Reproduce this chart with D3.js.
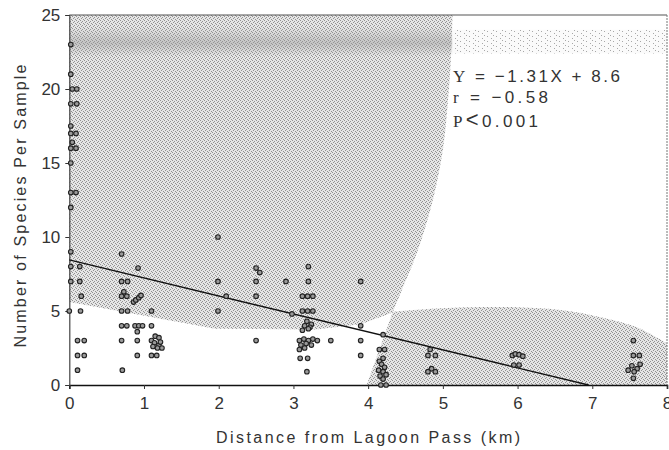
<!DOCTYPE html>
<html>
<head>
<meta charset="utf-8">
<script src="https://cdn.jsdelivr.net/npm/d3@7"></script>
<style>
body { margin: 0; background: #fff; }
text { font-family: "Liberation Sans", Arial, sans-serif; fill: #333; }
</style>
</head>
<body>
<div id="chart-area"></div>
<script>

// Samples: distance from lagoon pass (km) and number of species
var distance = [
	0.02,0.02,0.04,0.1, 0.02,0.1, 0.02,0.02,0.09,0.04,0.02,0.09,0.02,0.02,0.09,0.02,0.02,0.02,0.02,0.0,
	0.14,0.14,0.16,0.15,0.11,0.2, 0.11,0.2, 0.11,
	0.70,0.70,0.78,0.73,0.70,0.77,0.70,0.78,0.70,0.77,0.70,0.71,
	0.92,0.86,0.89,0.93,0.96,0.88,0.93,0.98,0.91,0.91,0.91,
	1.1, 1.1, 1.1, 1.15,1.2, 1.14,1.2, 1.12,1.18,1.24,1.22,1.1, 1.17,
	1.99,1.99,1.99,2.1,
	2.5, 2.55,2.5, 2.5, 2.5,
	2.9, 2.98,
	3.2, 3.2, 3.12,3.19,3.26,3.12,3.19,3.26,
	3.18,3.24,3.15,3.22,3.12,3.2,
	3.08,3.14,3.2, 3.26,3.32,3.1, 3.17,3.24,3.08,3.15,
	3.09,3.19,3.18,
	3.5,
	3.9, 3.9, 3.9, 3.9,
	4.2, 4.15,4.22,4.15,4.2, 4.18,4.22,4.14,4.2, 4.16,4.24,4.2, 4.17,4.24,
	4.83,4.8, 4.9, 4.85,4.8, 4.9,
	5.93,5.97,6.02,6.07,5.95,6.02,
	7.55,7.55,7.63,7.53,7.64,7.6, 7.48,7.56,7.55
];
var species = [
	23,21,20,20, 19,19, 17.5,17,17,16.4,16,16,15,13,13,12,9,8,7,5,
	8,7,6,5,3,3,2,2,1,
	8.85,7,7,6.3,6,6,5,5,4,4,3,1,
	7.9,5.6,5.75,5.9,6.05,4,4,4,3.6,3,2,
	5,4,3.0,3.3,3.2,2.85,2.7,2.6,2.5,2.5,2.9,2,2,
	10,7,5,6,
	7.9,7.6,7,6,3,
	7,4.8,
	8,7,6,6,6,5,5,5,
	4.3,4.1,4.0,3.9,3.7,3.8,
	3.0,3.1,3.0,3.1,3.0,2.7,2.8,2.7,2.4,2.5,
	1.8,1.8,0.9,
	3,
	7,4,3,2,
	3.4,2.4,2.4,1.6,1.8,1.4,1.2,1.0,0.9,0.6,0.7,0.4,0,0,
	2.4,2.0,2.0,1.1,0.9,0.9,
	2.0,2.1,2.05,1.95,1.35,1.35,
	3,2,2,1.3,1.4,1.1,1.0,0.9,0.45
];

// Regression line as drawn (ends on the x axis)
var lineX = [0, 6.95];
var lineY = [8.45, 0];

var xTicks = [0,1,2,3,4,5,6,7,8];
var yTicks = [0,5,10,15,20,25];

// Shaded (stippled) areas of the scanned figure, in data units
// curved edge first, then the straight edges
var upperCurve = [[5.13,25],[5.107,22],[5.07,19.3],[5.0,15.9],[4.866,12.5],[4.665,9.1],[4.45,6.4],[4.33,4.9]];
var upperRest = [[3.9,4.1],[3.3,3.75],[1.95,3.8],[0,5.6],[0,25]];
var lowerCurve = [[4.33,4.95],[4.7,5.1],[5.3,5.25],[6.0,5.25],[6.6,5.05],[7.1,4.6],[7.6,3.9],[8,2.8]];
var lowerRest = [[8,0],[3.98,0]];

var statLines = ["Y = \u22121.31X + 8.6", "r = \u22120.58", "P<0.001"];

var width = 669, height = 450;
var plotLeft = 69.3, plotRight = 667, plotTop = 15, plotBottom = 385;

var svg = d3.select("#chart-area").append("svg")
	.attr("width", width)
	.attr("height", height);

var x = d3.scaleLinear().domain([0,8]).range([plotLeft, plotRight]);
var y = d3.scaleLinear().domain([0,25]).range([plotBottom, plotTop]);

// stipple texture
var defs = svg.append("defs");
var pat = defs.append("pattern").attr("id","stip")
	.attr("width",4).attr("height",4).attr("patternUnits","userSpaceOnUse");
pat.append("rect").attr("width",4).attr("height",4).attr("fill","#e6e6e6");
[[0,0],[2,1],[1,2],[3,3]].forEach(function(p){
	pat.append("rect").attr("x",p[0]).attr("y",p[1]).attr("width",1).attr("height",1).attr("fill","#929292");
});
var pat2 = defs.append("pattern").attr("id","faint")
	.attr("width",9).attr("height",5).attr("patternUnits","userSpaceOnUse");
pat2.append("rect").attr("width",9).attr("height",5).attr("fill","#fafafa");
[[1,1],[5,3],[7,0]].forEach(function(p){
	pat2.append("rect").attr("x",p[0]).attr("y",p[1]).attr("width",1).attr("height",1).attr("fill","#a8a8a8");
});
var grad = defs.append("linearGradient").attr("id","band")
	.attr("x1",0).attr("x2",0).attr("y1",0).attr("y2",1);
grad.append("stop").attr("offset","0%").attr("stop-color","#999").attr("stop-opacity",0);
grad.append("stop").attr("offset","55%").attr("stop-color","#999").attr("stop-opacity",0.45);
grad.append("stop").attr("offset","100%").attr("stop-color","#999").attr("stop-opacity",0);

var curve = d3.line().curve(d3.curveCatmullRom.alpha(0.5))
	.x(function(d){ return x(d[0]); }).y(function(d){ return y(d[1]); });
function rest(pts){
	return pts.map(function(d){ return "L" + x(d[0]) + "," + y(d[1]); }).join("") + "Z";
}

svg.append("path").attr("d", curve(upperCurve) + rest(upperRest)).attr("fill","url(#stip)");
svg.append("path").attr("d", curve(lowerCurve) + rest(lowerRest)).attr("fill","url(#stip)");

// darker scan band near the top
svg.append("rect")
	.attr("x", x(0)).attr("y", y(24.2))
	.attr("width", x(5.13) - x(0)).attr("height", y(22.2) - y(24.2))
	.attr("fill","url(#band)");
svg.append("rect")
	.attr("x", x(5.13)).attr("y", y(24.0))
	.attr("width", x(8) - x(5.13)).attr("height", y(22.4) - y(24.0))
	.attr("fill","url(#faint)");

// frame top and right
svg.append("line").attr("x1",x(0)).attr("x2",x(8)).attr("y1",y(25)).attr("y2",y(25))
	.attr("stroke","#555").attr("stroke-width",1.2);
svg.append("line").attr("x1",x(8)).attr("x2",x(8)).attr("y1",y(25)).attr("y2",y(0))
	.attr("stroke","#777").attr("stroke-width",1).attr("stroke-dasharray","2,1");

// axes
var xAxis = d3.axisBottom(x).tickValues(xTicks).tickSize(4).tickPadding(8).tickFormat(d3.format("d"));
var yAxis = d3.axisLeft(y).tickValues(yTicks).tickSize(4).tickPadding(5).tickFormat(d3.format("d"));

var gx = svg.append("g").attr("transform","translate(0," + plotBottom + ")").call(xAxis);
gx.select(".domain").attr("stroke","#111").attr("stroke-width",1.6);
gx.selectAll(".tick line").attr("stroke","#333");
gx.selectAll(".tick text").attr("font-size",17).attr("fill","#3a3a3a")
	.attr("font-family","Liberation Sans, Arial, sans-serif");

var gy = svg.append("g").attr("transform","translate(" + plotLeft + ",0)").call(yAxis);
gy.select(".domain").attr("stroke","#444").attr("stroke-width",1.2);
gy.selectAll(".tick line").attr("stroke","#333");
gy.selectAll(".tick text").attr("font-size",17).attr("fill","#3a3a3a")
	.attr("font-family","Liberation Sans, Arial, sans-serif");

// regression line
svg.append("line")
	.attr("x1", x(lineX[0])).attr("y1", y(lineY[0]))
	.attr("x2", x(lineX[1])).attr("y2", y(lineY[1]))
	.attr("stroke","#111").attr("stroke-width",1.4);

// sample points
svg.selectAll("circle.pt")
	.data(distance)
	.enter()
	.append("circle")
	.attr("class","pt")
	.attr("cx", function(d){ return x(d); })
	.attr("cy", function(d,i){ return y(species[i]); })
	.attr("r", 2.3)
	.attr("fill","#9a9a9a")
	.attr("stroke","#222")
	.attr("stroke-width",1.1);

// statistics
var st = svg.append("g").attr("font-size",17);
var t1 = st.append("text").attr("x",453).attr("y",82).attr("textLength",167).attr("lengthAdjust","spacing");
t1.append("tspan").attr("font-family","Liberation Serif, serif").text(statLines[0].slice(0,1));
t1.append("tspan").text(statLines[0].slice(1));
var t2 = st.append("text").attr("x",453).attr("y",103).attr("textLength",95).attr("lengthAdjust","spacing");
t2.append("tspan").attr("font-family","Liberation Serif, serif").text(statLines[1].slice(0,1));
t2.append("tspan").text(statLines[1].slice(1));
var t3 = st.append("text").attr("x",453).attr("y",127).attr("textLength",85).attr("lengthAdjust","spacing");
t3.append("tspan").attr("font-family","Liberation Serif, serif").text(statLines[2].slice(0,1));
t3.append("tspan").attr("font-size",22).attr("font-weight",100).text(statLines[2].slice(1,2));
t3.append("tspan").text(statLines[2].slice(2));

// axis titles
svg.append("text")
	.attr("x", 368).attr("y", 443)
	.attr("text-anchor","middle")
	.attr("font-size",16)
	.attr("textLength",304).attr("lengthAdjust","spacing")
	.text("Distance from Lagoon Pass (km)");

svg.append("text")
	.attr("transform","translate(26,206) rotate(-90)")
	.attr("text-anchor","middle")
	.attr("font-size",16)
	.attr("textLength",283).attr("lengthAdjust","spacing")
	.text("Number of Species Per Sample");

</script>
</body>
</html>
